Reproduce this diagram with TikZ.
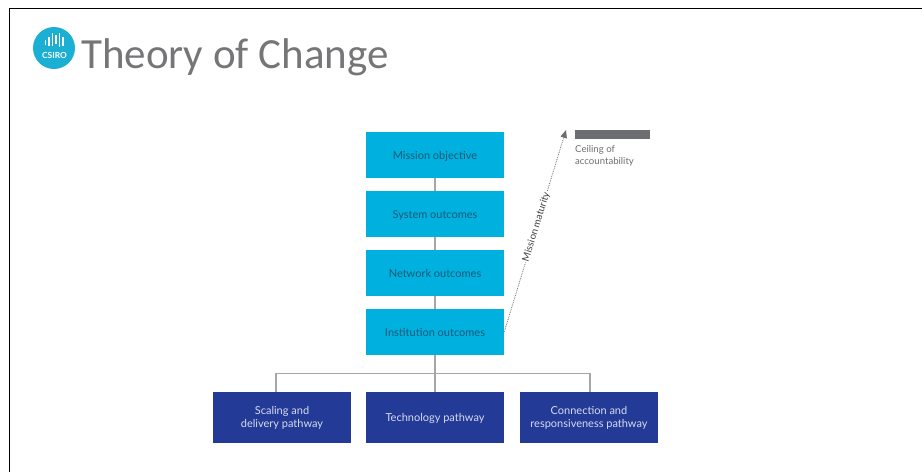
\documentclass[tikz,border=0pt]{standalone}
\usepackage{fontspec}
\setmainfont{Lato}
\newfontfamily\titlefont{Carlito}
\usetikzlibrary{arrows}
\definecolor{titlegrey}{HTML}{767577}
\definecolor{csiroblue}{HTML}{1BAFD3}
\definecolor{outcomeblue}{HTML}{00B0DE}
\definecolor{pathwayblue}{HTML}{233A96}
\definecolor{outcometext}{HTML}{145A78}
\definecolor{pathwaytext}{HTML}{D5DBF0}
\definecolor{linkgrey}{HTML}{A6A6A6}
\definecolor{ceilinggrey}{HTML}{6D6E71}
\begin{document}
\begin{tikzpicture}[x=1pt,y=-1pt,
	outcome/.style={fill=outcomeblue,text=outcometext,minimum width=138pt,minimum height=46pt,inner sep=0pt,text height=8.4pt,text depth=0pt,font=\fontsize{11}{13}\selectfont,align=center},
	pathway/.style={fill=pathwayblue,text=pathwaytext,minimum width=138pt,minimum height=51pt,inner sep=0pt,text height=21pt,font=\fontsize{11}{13}\selectfont,align=center},
	link/.style={linkgrey,line width=1.5pt},
	bar/.style={white,line width=1.1pt}]
	\useasboundingbox (0,0) rectangle (922,472);
	\draw [black,line width=1pt] (9.5,472)-- (9.5,8.5)-- (922,8.5);

	\node [circle,fill=csiroblue,minimum size=42pt,inner sep=0pt] (logo) at (54,48) {};
	\draw [bar] (45.5,40)-- (45.5,45);
	\draw [bar] (49,37)-- (49,46);
	\draw [bar] (52.5,33)-- (52.5,46);
	\draw [bar] (56,35)-- (56,44);
	\draw [bar] (59.5,33)-- (59.5,47);
	\draw [bar] (63,37)-- (63,46);
	\node [text=white,inner sep=0pt,font=\fontsize{8.4}{10}\bfseries\selectfont] (csiro) at (54.5,55.5) {CSIRO};
	\node [anchor=base west,text=titlegrey,inner sep=0pt,font=\titlefont\fontsize{43}{50}\selectfont] (title) at (81,68.5) {Theory of Change};

	\node [outcome] (mission) at (435,155) {Mission objective};
	\node [outcome] (system) at (435,214) {System outcomes};
	\node [outcome] (network) at (435,273) {Network outcomes};
	\node [outcome] (institution) at (435,332) {Institution outcomes};
	\node [pathway] (scaling) at (282,417.5) {Scaling and\\delivery pathway};
	\node [pathway,text height=8.4pt,text depth=0pt] (technology) at (435,417.5) {Technology pathway};
	\node [pathway] (connection) at (589,417.5) {Connection and\\responsiveness pathway};

	\draw [link] (mission)-- (system);
	\draw [link] (system)-- (network);
	\draw [link] (network)-- (institution);
	\draw [link] (institution)-- (technology);
	\coordinate (branchleft) at (276,373.5);
	\coordinate (branchright) at (590,373.5);
	\draw [link] (branchleft |- scaling.north)-- (branchleft)-- (branchright)-- (branchright |- connection.north);

	\coordinate (maturitytop) at (566,130);
	\draw [ceilinggrey,densely dotted,line width=0.8pt,-triangle 45] (institution.east)-- node [pos=0.52,sloped,fill=white,solid,inner sep=1pt,text=black!75,font=\fontsize{9.8}{10}\selectfont] (maturity) {Mission maturity} (maturitytop);

	\node [fill=ceilinggrey,minimum width=75pt,minimum height=9pt,inner sep=0pt] (ceiling) at (612.5,134.5) {};
	\node [anchor=north west,text=ceilinggrey,inner sep=0pt,align=left,font=\fontsize{9.6}{12}\selectfont] (ceilinglabel) at (575,145) {Ceiling of\\accountability};
\end{tikzpicture}
\end{document}
